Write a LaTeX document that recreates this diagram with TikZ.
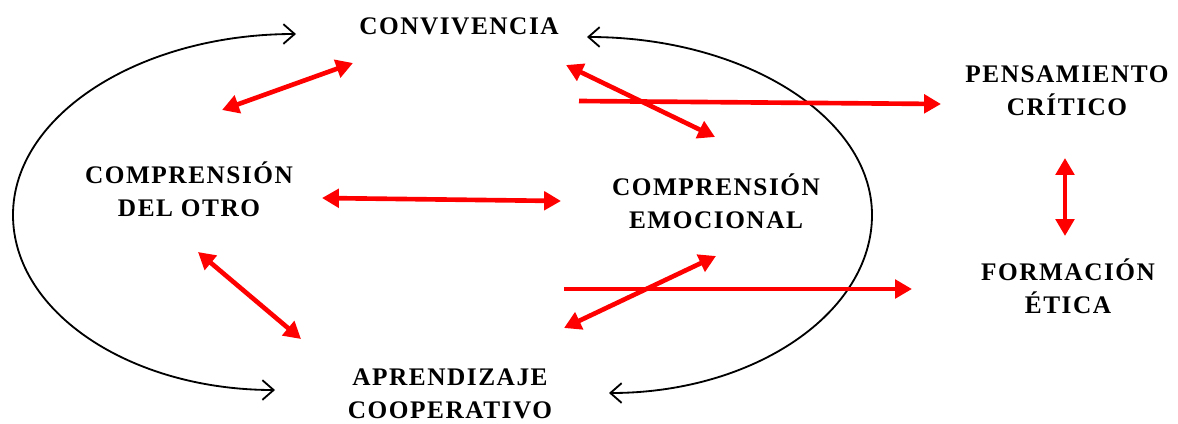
\documentclass[tikz,border=0pt]{standalone}
\usepackage{fontspec}
\setmainfont{Liberation Serif}
\newfontfamily\conceptofont[LetterSpace=6]{Liberation Serif}
\usepackage{tikz}
\usetikzlibrary{arrows.meta}
\tikzset{x=0.025cm, y=-0.025cm,
concepto/.style={ % Sets the properties for each concept
font=\conceptofont\bfseries\fontsize{18}{23.2}\selectfont,
align=center,
inner sep=0pt},
relacion/.style={ % Red links between concepts
draw=red,
line width=3.3pt,
>={Triangle[length=12pt,width=13pt]}},
ciclo/.style={ % Black arcs round the cycle
draw=black,
line width=1.3pt,
>={Straight Barb[length=8pt,width=14pt]}}}

\begin{document}
\begin{tikzpicture}
\useasboundingbox (0,0) rectangle (1178,423);
\node[concepto] (conv) at (459,26) {CONVIVENCIA};
\node[concepto] (otro) at (189,189) {COMPRENSIÓN\\DEL OTRO};
\node[concepto] (emo) at (716,201) {COMPRENSIÓN\\EMOCIONAL};
\node[concepto] (pens) at (1067,91) {PENSAMIENTO\\CRÍTICO};
\node[concepto] (form) at (1068,286) {FORMACIÓN\\ÉTICA};
\node[concepto] (apr) at (450,394) {APRENDIZAJE\\COOPERATIVO};
% ends of the red links
\coordinate (convOtro) at (353,63);
\coordinate (otroConv) at (222,110);
\coordinate (convEmo) at (566,65);
\coordinate (emoConv) at (715,137);
\coordinate (desdePens) at (579,101);
\coordinate (haciaPens) at (941,104);
\coordinate (otroEmo) at (322,198);
\coordinate (emoOtro) at (561,201);
\coordinate (otroApr) at (198,252);
\coordinate (aprOtro) at (301,339);
\coordinate (emoApr) at (716,256);
\coordinate (aprEmo) at (564,328);
\coordinate (desdeForm) at (564,289);
\coordinate (haciaForm) at (912,289);
\coordinate (pensForm) at (1065,158);
\coordinate (formPens) at (1065,236);
% ends of the black arcs
\coordinate (izqArriba) at (296,34);
\coordinate (izqMedio) at (13,215);
\coordinate (izqAbajo) at (275,390);
\coordinate (derArriba) at (587,37);
\coordinate (derMedio) at (872,215);
\coordinate (derAbajo) at (609,393);
\draw[ciclo,<->] (izqArriba) .. controls (140,34) and (13,115) .. (izqMedio) .. controls (13,312) and (130,390) .. (izqAbajo);
\draw[ciclo,<->] (derArriba) .. controls (744,37) and (872,117) .. (derMedio) .. controls (872,313) and (754,393) .. (derAbajo);
\draw[relacion,<->] (convOtro) -- (otroConv);
\draw[relacion,<->] (convEmo) -- (emoConv);
\draw[relacion,->] (desdePens) -- (haciaPens);
\draw[relacion,<->] (otroEmo) -- (emoOtro);
\draw[relacion,<->] (otroApr) -- (aprOtro);
\draw[relacion,<->] (emoApr) -- (aprEmo);
\draw[relacion,->] (desdeForm) -- (haciaForm);
\draw[relacion,<->] (pensForm) -- (formPens);
\end{tikzpicture}
\end{document}
